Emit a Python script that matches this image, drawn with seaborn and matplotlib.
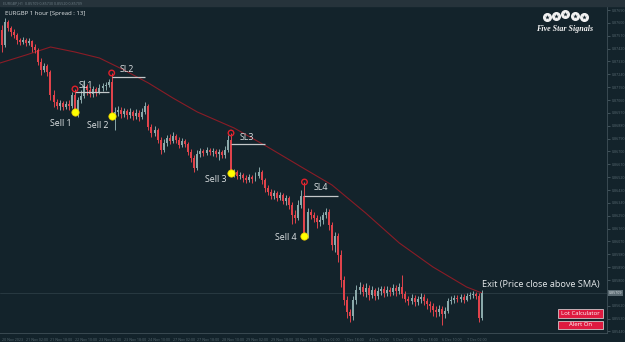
import numpy as np
import pandas as pd
import seaborn as sns
import matplotlib
matplotlib.use("Agg")
import matplotlib.pyplot as plt
from matplotlib.patches import Rectangle

# ---------------- data ----------------
candle_hours = 2            # each drawn candle spans 2 hours
first_open = 0.87550
closes = [0.87445, 0.87606, 0.87564, 0.87536, 0.87515, 0.87480, 0.87466, 0.87480, 0.87459, 0.87473,
          0.87431, 0.87410, 0.87326, 0.87270, 0.87298, 0.87256, 0.87095, 0.87046, 0.87018, 0.87039,
          0.87011, 0.87032, 0.87018, 0.87095, 0.86976, 0.87060, 0.87088, 0.87158, 0.87130, 0.87102,
          0.87137, 0.87116, 0.87144, 0.87158, 0.87165, 0.87186, 0.86948, 0.86976, 0.86990, 0.86962,
          0.86983, 0.86955, 0.86976, 0.86948, 0.86969, 0.86941, 0.86976, 0.87018, 0.86871, 0.86829,
          0.86850, 0.86780, 0.86710, 0.86759, 0.86794, 0.86773, 0.86808, 0.86780, 0.86745, 0.86773,
          0.86752, 0.86696, 0.86654, 0.86584, 0.86682, 0.86703, 0.86689, 0.86710, 0.86696, 0.86703,
          0.86682, 0.86696, 0.86675, 0.86710, 0.86780, 0.86549, 0.86556, 0.86528, 0.86535, 0.86514,
          0.86500, 0.86521, 0.86507, 0.86528, 0.86556, 0.86500, 0.86444, 0.86416, 0.86388, 0.86409,
          0.86374, 0.86395, 0.86353, 0.86374, 0.86325, 0.86255, 0.86234, 0.86325, 0.86388, 0.86108,
          0.86276, 0.86255, 0.86234, 0.86206, 0.86220, 0.86255, 0.86276, 0.86185, 0.86045, 0.86108,
          0.85975, 0.85800, 0.85660, 0.85576, 0.85548, 0.85660, 0.85730, 0.85751, 0.85716, 0.85744,
          0.85695, 0.85730, 0.85688, 0.85723, 0.85737, 0.85709, 0.85730, 0.85716, 0.85744, 0.85723,
          0.85751, 0.85702, 0.85667, 0.85653, 0.85674, 0.85646, 0.85667, 0.85681, 0.85653, 0.85632,
          0.85618, 0.85590, 0.85576, 0.85597, 0.85562, 0.85583, 0.85653, 0.85660, 0.85674, 0.85667,
          0.85681, 0.85660, 0.85688, 0.85695, 0.85702, 0.85688, 0.85534, 0.85709]
highs = [0.87585, 0.87634, 0.87620, 0.87578, 0.87557, 0.87529, 0.87494, 0.87501, 0.87494, 0.87494,
         0.87480, 0.87452, 0.87424, 0.87354, 0.87319, 0.87312, 0.87270, 0.87130, 0.87067, 0.87060,
         0.87053, 0.87053, 0.87060, 0.87116, 0.87137, 0.87081, 0.87130, 0.87200, 0.87172, 0.87151,
         0.87158, 0.87151, 0.87172, 0.87179, 0.87186, 0.87207, 0.87249, 0.87011, 0.87018, 0.87011,
         0.87004, 0.86997, 0.87004, 0.86990, 0.86997, 0.86990, 0.87004, 0.87046, 0.87032, 0.86892,
         0.86878, 0.86864, 0.86801, 0.86787, 0.86815, 0.86822, 0.86836, 0.86822, 0.86801, 0.86794,
         0.86787, 0.86766, 0.86717, 0.86675, 0.86710, 0.86724, 0.86717, 0.86731, 0.86724, 0.86724,
         0.86717, 0.86717, 0.86710, 0.86738, 0.86815, 0.86829, 0.86577, 0.86570, 0.86556, 0.86549,
         0.86535, 0.86542, 0.86535, 0.86556, 0.86591, 0.86570, 0.86514, 0.86465, 0.86437, 0.86430,
         0.86423, 0.86416, 0.86409, 0.86395, 0.86388, 0.86346, 0.86290, 0.86360, 0.86430, 0.86486,
         0.86304, 0.86297, 0.86276, 0.86255, 0.86248, 0.86276, 0.86304, 0.86297, 0.86206, 0.86136,
         0.86129, 0.86010, 0.85828, 0.85688, 0.85597, 0.85688, 0.85765, 0.85786, 0.85772, 0.85779,
         0.85765, 0.85758, 0.85744, 0.85751, 0.85758, 0.85758, 0.85758, 0.85751, 0.85772, 0.85765,
         0.85779, 0.85835, 0.85723, 0.85688, 0.85702, 0.85695, 0.85688, 0.85709, 0.85702, 0.85674,
         0.85653, 0.85639, 0.85618, 0.85625, 0.85618, 0.85611, 0.85674, 0.85688, 0.85695, 0.85695,
         0.85702, 0.85702, 0.85709, 0.85716, 0.85723, 0.85716, 0.85709, 0.85730]
lows = [0.87396, 0.87431, 0.87543, 0.87508, 0.87494, 0.87452, 0.87445, 0.87452, 0.87438, 0.87445,
        0.87396, 0.87389, 0.87305, 0.87235, 0.87256, 0.87228, 0.87060, 0.87011, 0.86997, 0.86990,
        0.86990, 0.86997, 0.86990, 0.87004, 0.86962, 0.86941, 0.87039, 0.87074, 0.87095, 0.87081,
        0.87081, 0.87088, 0.87102, 0.87123, 0.87130, 0.87151, 0.86934, 0.86850, 0.86948, 0.86934,
        0.86941, 0.86927, 0.86934, 0.86920, 0.86927, 0.86913, 0.86927, 0.86962, 0.86850, 0.86801,
        0.86808, 0.86759, 0.86682, 0.86696, 0.86738, 0.86752, 0.86759, 0.86759, 0.86724, 0.86731,
        0.86731, 0.86675, 0.86626, 0.86556, 0.86570, 0.86661, 0.86668, 0.86675, 0.86675, 0.86668,
        0.86661, 0.86640, 0.86654, 0.86654, 0.86696, 0.86535, 0.86521, 0.86507, 0.86507, 0.86486,
        0.86479, 0.86486, 0.86479, 0.86493, 0.86514, 0.86472, 0.86416, 0.86395, 0.86367, 0.86367,
        0.86353, 0.86360, 0.86332, 0.86325, 0.86297, 0.86192, 0.86199, 0.86220, 0.86304, 0.86094,
        0.86094, 0.86227, 0.86206, 0.86164, 0.86178, 0.86192, 0.86234, 0.86150, 0.86010, 0.85996,
        0.85926, 0.85751, 0.85625, 0.85534, 0.85506, 0.85520, 0.85632, 0.85702, 0.85688, 0.85681,
        0.85660, 0.85674, 0.85660, 0.85667, 0.85695, 0.85681, 0.85688, 0.85688, 0.85695, 0.85688,
        0.85702, 0.85674, 0.85646, 0.85625, 0.85632, 0.85618, 0.85625, 0.85639, 0.85625, 0.85597,
        0.85576, 0.85548, 0.85541, 0.85548, 0.85485, 0.85534, 0.85569, 0.85632, 0.85639, 0.85646,
        0.85646, 0.85639, 0.85653, 0.85667, 0.85674, 0.85667, 0.85506, 0.85520]

sma_hours = [-1, 16, 32, 48, 64, 80, 96, 112, 128, 152, 174, 196, 216, 238, 260, 282, 304, 314]
sma_values = [0.87319, 0.87375, 0.87431, 0.87396, 0.87354, 0.87270, 0.87179, 0.87074, 0.86976,
              0.86864, 0.86731, 0.86591, 0.86465, 0.86269, 0.86059, 0.85891, 0.85751, 0.85709]

sell_index = [24, 36, 75, 99]
sell_labels = ["Sell 1", "Sell 2", "Sell 3", "Sell 4"]
sl_labels = ["SL1", "SL2", "SL3", "SL4"]
sl_levels = [0.87116, 0.87221, 0.86752, 0.86388]
sl_length_hours = 22

tick_hours = list(range(0, 305, 16))
tick_labels = ["20 Nov 2023", "21 Nov 02:00", "21 Nov 18:00", "22 Nov 10:00", "23 Nov 02:00",
               "23 Nov 18:00", "24 Nov 10:00", "27 Nov 02:00", "27 Nov 18:00", "28 Nov 10:00",
               "29 Nov 02:00", "29 Nov 18:00", "30 Nov 10:00", "1 Dec 02:00", "1 Dec 18:00",
               "4 Dec 10:00", "5 Dec 02:00", "5 Dec 18:00", "6 Dec 10:00", "7 Dec 02:00"]
price_ticks = [0.87690 - 0.0009 * i for i in range(26)]

title_text = "EURGBP 1 hour [Spread : 13]"
header_text = "EURGBP,H1  0.85709 0.85730 0.85520 0.85709"
exit_text = "Exit (Price close above SMA)"
logo_text = "Five Star Signals"
button_labels = ["Lot Calculator", "Alert On"]

# ---------------- layout / style ----------------
BG = "#13232b"
BULL = "#8aa9aa"
BEAR = "#e0434b"
SMA_C = "#8a1c26"
GRID_TXT = "#56676f"

sns.set_style("dark", rc={"axes.facecolor": BG, "figure.facecolor": BG})
plt.rcParams["font.family"] = ["Open Sans", "DejaVu Sans"]

W, H = 625, 342
fig = plt.figure(figsize=(W / 100, H / 100), dpi=100)
fig.patch.set_facecolor(BG)
ax = fig.add_axes([0, 9 / H, 607 / W, 327 / H])
ax.set_facecolor(BG)

df = pd.DataFrame({"close": closes, "high": highs, "low": lows})
df["open"] = [first_open] + closes[:-1]
df["hour"] = np.arange(len(df)) * candle_hours
df["bull"] = df["close"] >= df["open"]
colors = np.where(df["bull"], BULL, BEAR)

# wicks and bodies
ax.vlines(df["hour"], df["low"], df["high"], colors=colors, lw=0.7, zorder=2)
ax.bar(df["hour"], df["close"] - df["open"], bottom=df["open"], width=1.3,
       color=colors, linewidth=0, zorder=3)

# SMA
sma_df = pd.DataFrame({"hour": sma_hours, "sma": sma_values})
sns.lineplot(data=sma_df, x="hour", y="sma", ax=ax, color=SMA_C, lw=0.8, zorder=1)

# current price line
ax.axhline(closes[-1], color="#2c3d45", lw=0.6, zorder=0.5)

# signals
sig = df.iloc[sell_index].copy()
sig["sl"] = sl_levels
for _, r in sig.iterrows():
    ax.hlines(r["sl"], r["hour"], r["hour"] + sl_length_hours, colors="#c4c8ca", lw=0.9, zorder=4)
sns.scatterplot(x=sig["hour"], y=sig["high"], ax=ax, s=16, facecolor="none",
                edgecolor="#e0202a", linewidth=1.0, zorder=6, legend=False)
sns.scatterplot(x=sig["hour"], y=sig["close"], ax=ax, s=28, color="#ffff00",
                edgecolor="#e8c800", linewidth=0.5, zorder=6, legend=False)

sl_offsets = [(4, 6), (8, 8), (9, 7), (9, 8)]
sell_offsets = [(-3, -12), (-3, -9), (-5, -7), (-8, -2)]
for i, (_, r) in enumerate(sig.iterrows()):
    ax.annotate(sl_labels[i], xy=(r["hour"], r["sl"]), xytext=sl_offsets[i],
                textcoords="offset pixels", ha="left", va="center",
                color="#dfe3e5", fontsize=6.4, zorder=7)
    ax.annotate(sell_labels[i], xy=(r["hour"], r["close"]), xytext=sell_offsets[i],
                textcoords="offset pixels", ha="right", va="center",
                color="#dfe3e5", fontsize=6.4, zorder=7)

ax.annotate(exit_text, xy=(df["hour"].iloc[-1], closes[-1]), xytext=(0, 8),
            textcoords="offset pixels", ha="left", va="center",
            color="#e6eaec", fontsize=6.6, zorder=7)

# axes
ax.set_xlim(-1, (607 - 1.5) / 1.53)
ax.set_ylim(0.87760 - 333 * 0.00007, 0.87760 - 6 * 0.00007)
ax.set_xlabel("")
ax.set_ylabel("")
ax.yaxis.tick_right()
ax.set_yticks(price_ticks)
# the live price tag replaces the tick label it would cover
ax.set_yticklabels(["" if abs(p - closes[-1]) < 0.0004 else f"{p:.5f}" for p in price_ticks])
ax.set_xticks(tick_hours)
ax.set_xticklabels(tick_labels, ha="left")
ax.tick_params(axis="both", colors=GRID_TXT, labelsize=2.6, length=2, width=0.5, pad=1.5,
               labelcolor=GRID_TXT)
for s in ["top", "left"]:
    ax.spines[s].set_visible(False)
for s in ["right", "bottom"]:
    ax.spines[s].set_visible(True)
    ax.spines[s].set_color("#3a4a52")
    ax.spines[s].set_linewidth(0.7)
ax.grid(False)

# current price tag on axis
ax.annotate(f"{closes[-1]:.5f}", xy=(1.0, closes[-1]), xycoords=("axes fraction", "data"),
            xytext=(2, 0), textcoords="offset pixels", ha="left", va="center",
            fontsize=2.6, color="#e0e6ea",
            bbox=dict(boxstyle="square,pad=0.25", fc="#5b6b73", ec="none"))

# header strip
fig.add_artist(Rectangle((0, 1 - 6 / H), 1, 6 / H, transform=fig.transFigure,
                         color="#26333b", zorder=10))
fig.text(3 / W, 1 - 3 / H, header_text, fontsize=2.6, color="#6c7c84",
         ha="left", va="center", zorder=11)
fig.text(5 / W, 1 - 13 / H, title_text, fontsize=4.3, color="#e4e8ea", ha="left", va="center")

# logo
star_x = [547, 556, 565, 575, 584]
star_y = [17, 16, 14, 16, 17]
lx = [x / W for x in star_x]
ly = [1 - y / H for y in star_y]
ax.scatter(lx, ly, s=30, color="#f2f2f2", transform=fig.transFigure, zorder=10, clip_on=False)
ax.scatter(lx, ly, s=12, marker="*", color=BG, transform=fig.transFigure, zorder=11,
           clip_on=False, linewidths=0)
fig.text(565 / W, 1 - 29 / H, logo_text, fontsize=5.8, color="#f2f2f2", ha="center",
         va="center", family="Liberation Serif", style="italic", weight="bold")

# buttons
for (top, bot), lab in zip([(309, 318), (321, 329)], button_labels):
    fig.add_artist(Rectangle((558 / W, 1 - bot / H), 45 / W, (bot - top) / H,
                             transform=fig.transFigure, fc="#de1a40", ec="#e8e8e8", lw=0.5,
                             zorder=10))
    fig.text(580.5 / W, 1 - (top + bot) / 2 / H, lab, fontsize=4.3, color="#ffffff",
             ha="center", va="center", zorder=11)

fig.savefig("out.png", dpi=100, facecolor=BG)
